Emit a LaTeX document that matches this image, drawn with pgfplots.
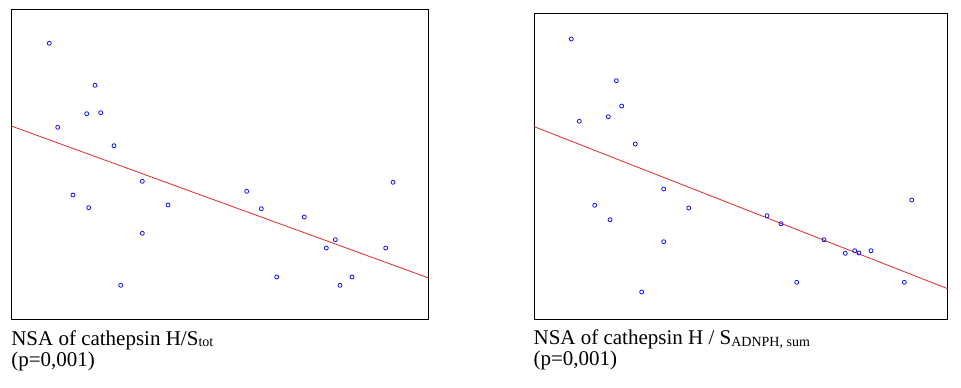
\documentclass[border=0pt]{standalone}
\usepackage{pgfplots}
\pgfplotsset{compat=1.18}
\usepackage{fontspec}
\setmainfont{Liberation Serif}
\definecolor{ptblue}{RGB}{20,20,230}
\definecolor{lnred}{RGB}{225,40,40}
\pgfplotsset{
  scat/.style={
    scale only axis,
    axis line style={black,line width=0.75pt},
    xtick=\empty, ytick=\empty,
    y dir=reverse,
    clip=false,
  },
}
\begin{document}
\begin{tikzpicture}
\path[use as bounding box] (0,0) rectangle (720.75pt,-290.25pt);
% left panel
\begin{axis}[scat,
  at={(8.475pt,-6.975pt)}, anchor=north west,
  width=313.05pt, height=232.5pt,
  xmin=11.3, xmax=428.7, ymin=9.3, ymax=319.3]
\addplot[only marks, mark=o, mark size=1.5pt, ptblue, line width=0.6pt] coordinates {
(49.3,43.3) (57.7,127.3) (95,85.3) (86.7,113.7) (100.7,112.7) (114,145.7)
(142.3,181.3) (73,195) (88.7,207.7) (168,205) (142.3,233.3) (120.7,285.3)
(246.7,191.3) (261.3,208.7) (304.3,217) (335.3,239.7) (326.3,248) (276.7,277)
(340,285.3) (352,277) (385.7,248) (393,182.3)
};
\addplot[lnred, line width=0.6pt, no marks] coordinates {(11.3,126) (428.7,278)};
\end{axis}
% right panel
\begin{axis}[scat,
  at={(400.725pt,-9.975pt)}, anchor=north west,
  width=310.05pt, height=229.5pt,
  xmin=9.3, xmax=422.7, ymin=13.3, ymax=319.3]
\addplot[only marks, mark=o, mark size=1.5pt, ptblue, line width=0.6pt] coordinates {
(46.3,39) (54.3,121.3) (91.3,80.7) (83.3,116.7) (96.7,106) (110.3,144)
(138.7,189) (69.7,205.3) (85,219.7) (163.7,208) (138.7,241.7) (116.7,292)
(242,215.7) (256,223.7) (299,239.7) (320.3,253.3) (329.7,250.7) (334,253)
(346,250.7) (271.7,282.3) (379.3,282.3) (386.7,200)
};
\addplot[lnred, line width=0.6pt, no marks] coordinates {(9.3,126.7) (422.7,288.7)};
\end{axis}
% captions
\node[anchor=base west, inner sep=0pt, font=\fontsize{15.75pt}{16pt}\selectfont] at (8.25pt,-258.75pt)
  {NSA of cathepsin H/S\raisebox{-1pt}{\fontsize{10.5pt}{11pt}\selectfont tot}};
\node[anchor=base west, inner sep=0pt, font=\fontsize{15.75pt}{16pt}\selectfont] at (8.25pt,-274.5pt)
  {(p=0,001)};
\node[anchor=base west, inner sep=0pt, font=\fontsize{15.75pt}{16pt}\selectfont] at (400pt,-258pt)
  {NSA of cathepsin H / S\raisebox{-2pt}{\fontsize{10.5pt}{11pt}\selectfont ADNPH, sum}};
\node[anchor=base west, inner sep=0pt, font=\fontsize{15.75pt}{16pt}\selectfont] at (400pt,-273.75pt)
  {(p=0,001)};
\end{tikzpicture}
\end{document}
